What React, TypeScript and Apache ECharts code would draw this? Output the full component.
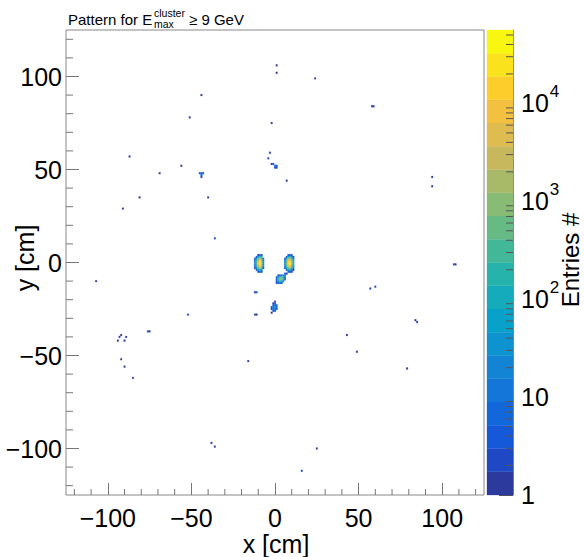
import React, { useEffect, useRef } from 'react';
import * as echarts from 'echarts';

// ---------- axis ranges / colour scale ----------
const X_MIN = -125;
const X_MAX = 125;
const Y_MIN = -125;
const Y_MAX = 125;
const Z_LOG_MAX = 4.75; // colour bar top = 10^4.75 entries

// ROOT kBird-like palette, 20 contour levels (bottom -> top)
const palette = [
  '#2c3a9e', '#1f48c4', '#1559d8', '#1268db', '#1476d8', '#1384d4', '#0d93cf', '#08a1ca',
  '#15abbc', '#26b3ac', '#43b899', '#66bb85', '#88bc74', '#a8ba68', '#c7b75d', '#dfbb50',
  '#f3c03f', '#fdcd2c', '#fae31d', '#f8f70f',
];

// ---------- histogram contents [x cm, y cm, entries] ----------
const leftCrescent: number[][] = [
  [-10, 4, 2], [-9, 4, 6], [-8, 4, 4],
  [-11, 3, 4], [-10, 3, 30], [-9, 3, 150], [-8, 3, 80],
  [-12, 2, 3], [-11, 2, 40], [-10, 2, 600], [-9, 2, 2500], [-8, 2, 700], [-7, 2, 8],
  [-12, 1, 8], [-11, 1, 150], [-10, 1, 3000], [-9, 1, 15000], [-8, 1, 3000], [-7, 1, 20],
  [-12, 0, 15], [-11, 0, 300], [-10, 0, 8000], [-9, 0, 40000], [-8, 0, 6000], [-7, 0, 40],
  [-12, -1, 12], [-11, -1, 300], [-10, -1, 9000], [-9, -1, 45000], [-8, -1, 6000], [-7, -1, 40],
  [-12, -2, 6], [-11, -2, 150], [-10, -2, 3000], [-9, -2, 15000], [-8, -2, 2500], [-7, -2, 20],
  [-12, -3, 2], [-11, -3, 40], [-10, -3, 600], [-9, -3, 2500], [-8, -3, 600], [-7, -3, 5],
  [-11, -4, 6], [-10, -4, 50], [-9, -4, 150], [-8, -4, 50],
  [-10, -5, 3], [-9, -5, 8], [-8, -5, 4],
];

const rightCrescent: number[][] = [
  [8, 4, 3], [9, 4, 5], [10, 4, 3],
  [7, 3, 4], [8, 3, 60], [9, 3, 100], [10, 3, 30], [11, 3, 2],
  [6, 2, 3], [7, 2, 60], [8, 2, 1500], [9, 2, 1800], [10, 2, 300], [11, 2, 15],
  [6, 1, 10], [7, 1, 300], [8, 1, 8000], [9, 1, 10000], [10, 1, 1500], [11, 1, 60],
  [6, 0, 20], [7, 0, 500], [8, 0, 15000], [9, 0, 30000], [10, 0, 3000], [11, 0, 120],
  [6, -1, 20], [7, -1, 500], [8, -1, 15000], [9, -1, 35000], [10, -1, 3000], [11, -1, 100],
  [6, -2, 10], [7, -2, 300], [8, -2, 6000], [9, -2, 8000], [10, -2, 1200], [11, -2, 50],
  [6, -3, 3], [7, -3, 60], [8, -3, 1200], [9, -3, 1500], [10, -3, 250], [11, -3, 10],
  [7, -4, 8], [8, -4, 60], [9, -4, 120], [10, -4, 25], [11, -4, 2],
  [8, -5, 3], [9, -5, 5], [10, -5, 2],
];

const blobB: number[][] = [
  [6, -6, 3], [7, -6, 2],
  [2, -7, 2], [3, -7, 5], [4, -7, 20], [5, -7, 30], [6, -7, 10],
  [1, -8, 4], [2, -8, 40], [3, -8, 300], [4, -8, 600], [5, -8, 150], [6, -8, 8],
  [1, -9, 8], [2, -9, 150], [3, -9, 1200], [4, -9, 1500], [5, -9, 200], [6, -9, 6],
  [1, -10, 5], [2, -10, 60], [3, -10, 300], [4, -10, 200], [5, -10, 20],
  [1, -11, 2], [2, -11, 6], [3, -11, 10], [4, -11, 4],
];

const blobC: number[][] = [
  [0, -21, 2],
  [-1, -22, 1], [0, -22, 3],
  [-1, -23, 4], [0, -23, 8], [1, -23, 3],
  [-2, -24, 3], [-1, -24, 15], [0, -24, 30], [1, -24, 8],
  [-2, -25, 2], [-1, -25, 12], [0, -25, 20], [1, -25, 5],
  [-1, -26, 3], [0, -26, 4],
];

const clusterNorth: number[][] = [
  [-2, 53, 1], [-1, 53, 3], [0, 52, 6], [1, 52, 3], [0, 51, 2], [1, 51, 2],
];

const clusterWest: number[][] = [
  [-45, 48, 3], [-44, 48, 6], [-43, 48, 3], [-44, 47, 8], [-44, 46, 2],
];

const scatteredHits: number[][] = [
  [-107, -10, 1], [-12, -16, 2], [-11, -16, 3], [-12, -28, 2], [-11, -28, 1], [-2, -27, 1],
  [-52, -28, 2], [-76, -37, 1], [-75, -37, 2], [-92, -39, 1], [-89, -40, 1], [-93, -40, 2],
  [-94, -42, 1], [-90, -42, 1], [-92, -52, 1], [-90, -56, 1], [-85, -62, 1], [-16, -53, 1],
  [-38, -97, 1], [-36, -99, 1], [25, -100, 1], [16, -112, 2], [57, -14, 2], [60, -13, 2],
  [43, -39, 1], [49, -48, 1], [84, -31, 1], [85, -32, 2], [79, -57, 1],
  [1, 106, 1], [1, 102, 1], [24, 99, 1], [-44, 90, 1], [59, 84, 2], [58, 84, 1],
  [-51, 78, 1], [-2, 75, 1], [-87, 57, 1], [-3, 59, 2], [-4, 56, 2], [-56, 52, 1],
  [-69, 48, 1], [7, 44, 1], [94, 46, 1], [94, 41, 1], [-81, 35, 1], [-40, 35, 1],
  [-91, 29, 1], [-36, 13, 2], [107, -1, 2], [108, -1, 1],
];

// ---------- tick positions ----------
const xMinorTicks = [-120, -110, -90, -80, -70, -60, -40, -30, -20, -10, 10, 20, 30, 40, 60, 70, 80, 90, 110, 120];
const yMinorTicks = [-120, -110, -90, -80, -70, -60, -40, -30, -20, -10, 10, 20, 30, 40, 60, 70, 80, 90, 110, 120];
const zMinorTickCounts = [
  2, 3, 4, 5, 6, 7, 8, 9,
  20, 30, 40, 50, 60, 70, 80, 90,
  200, 300, 400, 500, 600, 700, 800, 900,
  2000, 3000, 4000, 5000, 6000, 7000, 8000, 9000,
  20000, 30000, 40000, 50000,
];

const FONT = '"Liberation Sans", Arial, Helvetica, sans-serif';
const N_LEVELS = palette.length;
const STEP = Z_LOG_MAX / N_LEVELS;
const levelOf = (v: number) =>
  Math.max(0, Math.min(N_LEVELS - 1, Math.floor(Math.log10(v) / STEP + 1e-9)));
const fmtSigned = (v: number) => (v < 0 ? '\u2212' + Math.abs(v) : String(v));

export default function App() {
  const ref = useRef<HTMLDivElement>(null);

  useEffect(() => {
    if (!ref.current) return;
    const chart = echarts.init(ref.current, null, { renderer: 'svg' });
    const allHits = [
      ...leftCrescent, ...rightCrescent, ...blobB, ...blobC,
      ...clusterNorth, ...clusterWest, ...scatteredHits,
    ];

    const labelBase = { fontSize: 25, fontFamily: FONT, color: '#000' };
    const txt = (extra: any) => ({ fontFamily: FONT, fill: '#000', verticalAlign: 'middle', textVerticalAlign: 'middle', ...extra });

    const option: any = {
      animation: false,
      backgroundColor: '#ffffff',
      grid: [
        {
          left: 66, top: 30, width: 418, height: 465, show: true,
          borderColor: '#888', borderWidth: 1, backgroundColor: 'transparent',
        },
        { left: 487, top: 30, width: 26, height: 465, show: false },
      ],
      xAxis: [
        {
          gridIndex: 0, type: 'value', min: X_MIN, max: X_MAX, splitNumber: 5, position: 'bottom',
          axisLine: { show: false, onZero: false },
          axisTick: { show: true, inside: true, length: 12, lineStyle: { color: '#777' } },
          axisLabel: { ...labelBase, margin: 10, formatter: fmtSigned, showMinLabel: false, showMaxLabel: false },
          splitLine: { show: false },
        },
        { gridIndex: 1, type: 'value', min: 0, max: 1, show: false },
      ],
      yAxis: [
        {
          gridIndex: 0, type: 'value', min: Y_MIN, max: Y_MAX, splitNumber: 5, position: 'left',
          axisLine: { show: false, onZero: false },
          axisTick: { show: true, inside: true, length: 13, lineStyle: { color: '#777' } },
          axisLabel: { ...labelBase, margin: 4, formatter: fmtSigned, showMinLabel: false, showMaxLabel: false },
          splitLine: { show: false },
        },
        {
          gridIndex: 1, type: 'value', min: 0, max: Z_LOG_MAX, interval: 1, position: 'right',
          axisLine: { show: true, onZero: false, lineStyle: { color: '#888' } },
          axisTick: { show: true, inside: true, length: 14, lineStyle: { color: '#555' } },
          axisLabel: {
            margin: 8,
            showMaxLabel: false,
            formatter: (v: number) => {
              if (v === 0) return '{b|1}';
              if (v === 1) return '{b|10}';
              if (Number.isInteger(v)) return '{b|10}{s|' + v + '}';
              return '';
            },
            rich: {
              b: { fontSize: 25, fontFamily: FONT, color: '#000', padding: [8, 0, 8, 0] },
              s: { fontSize: 17, fontFamily: FONT, color: '#000', verticalAlign: 'top', padding: [0, 0, 16, 1] },
            },
          },
          splitLine: { show: false },
        },
      ],
      series: [
        {
          type: 'custom', xAxisIndex: 0, yAxisIndex: 0, clip: true, z: 2,
          data: allHits,
          encode: { x: 0, y: 1 },
          renderItem: (params: any, api: any) => {
            const x = api.value(0);
            const y = api.value(1);
            const v = api.value(2);
            const a = api.coord([x - 0.5, y + 0.5]);
            const b = api.coord([x + 0.5, y - 0.5]);
            const c = palette[levelOf(v)];
            return {
              type: 'rect',
              shape: { x: a[0], y: a[1], width: b[0] - a[0], height: b[1] - a[1] },
              style: { fill: c, stroke: c, lineWidth: 0.2 },
            };
          },
        },
        {
          type: 'custom', xAxisIndex: 0, yAxisIndex: 0, clip: false, z: 3, silent: true,
          data: xMinorTicks.map((v) => [v, Y_MIN]),
          encode: { x: 0, y: 1 },
          renderItem: (params: any, api: any) => {
            const p = api.coord([api.value(0), api.value(1)]);
            return {
              type: 'line',
              shape: { x1: p[0], y1: p[1], x2: p[0], y2: p[1] - 6 },
              style: { stroke: '#777', lineWidth: 1 },
            };
          },
        },
        {
          type: 'custom', xAxisIndex: 0, yAxisIndex: 0, clip: false, z: 3, silent: true,
          data: yMinorTicks.map((v) => [X_MIN, v]),
          encode: { x: 0, y: 1 },
          renderItem: (params: any, api: any) => {
            const p = api.coord([api.value(0), api.value(1)]);
            return {
              type: 'line',
              shape: { x1: p[0], y1: p[1], x2: p[0] + 7, y2: p[1] },
              style: { stroke: '#777', lineWidth: 1 },
            };
          },
        },
        {
          type: 'custom', xAxisIndex: 1, yAxisIndex: 1, clip: false, z: 2, silent: true,
          data: palette.map((_, i) => [0.5, (i + 0.5) * STEP, i]),
          encode: { x: 0, y: 1 },
          renderItem: (params: any, api: any) => {
            const i = api.value(2);
            const a = api.coord([0, (i + 1) * STEP]);
            const b = api.coord([1, i * STEP]);
            return {
              type: 'rect',
              shape: { x: a[0], y: a[1], width: b[0] - a[0], height: b[1] - a[1] },
              style: { fill: palette[i], stroke: palette[i], lineWidth: 0.3 },
            };
          },
        },
        {
          type: 'custom', xAxisIndex: 1, yAxisIndex: 1, clip: false, z: 4, silent: true,
          data: zMinorTickCounts.map((c) => [1, Math.log10(c)]),
          encode: { x: 0, y: 1 },
          renderItem: (params: any, api: any) => {
            const p = api.coord([api.value(0), api.value(1)]);
            return {
              type: 'line',
              shape: { x1: p[0], y1: p[1], x2: p[0] - 7, y2: p[1] },
              style: { stroke: '#555', lineWidth: 1 },
            };
          },
        },
      ],
      graphic: [
        { type: 'text', x: 68, y: 19, style: txt({ text: 'Pattern for E', fontSize: 15 }) },
        { type: 'text', x: 154, y: 13, style: txt({ text: 'cluster', fontSize: 10.5 }) },
        { type: 'text', x: 154, y: 24, style: txt({ text: 'max', fontSize: 10.5 }) },
        { type: 'text', x: 189, y: 19, style: txt({ text: '\u2265 9 GeV', fontSize: 15 }) },
        { type: 'text', x: 276, y: 544, style: txt({ text: 'x [cm]', fontSize: 25, align: 'center', textAlign: 'center' }) },
        { type: 'text', x: 25, y: 258, rotation: Math.PI / 2, style: txt({ text: 'y [cm]', fontSize: 25, align: 'center', textAlign: 'center' }) },
        { type: 'text', x: 570, y: 260, rotation: Math.PI / 2, style: txt({ text: 'Entries #', fontSize: 24, align: 'center', textAlign: 'center' }) },
      ],
    };

    chart.setOption(option);
    return () => chart.dispose();
  }, []);

  return (
    <div
      ref={ref}
      style={{ position: 'absolute', left: 0, top: 0, width: 584, height: 557, background: '#fff' }}
    />
  );
}
